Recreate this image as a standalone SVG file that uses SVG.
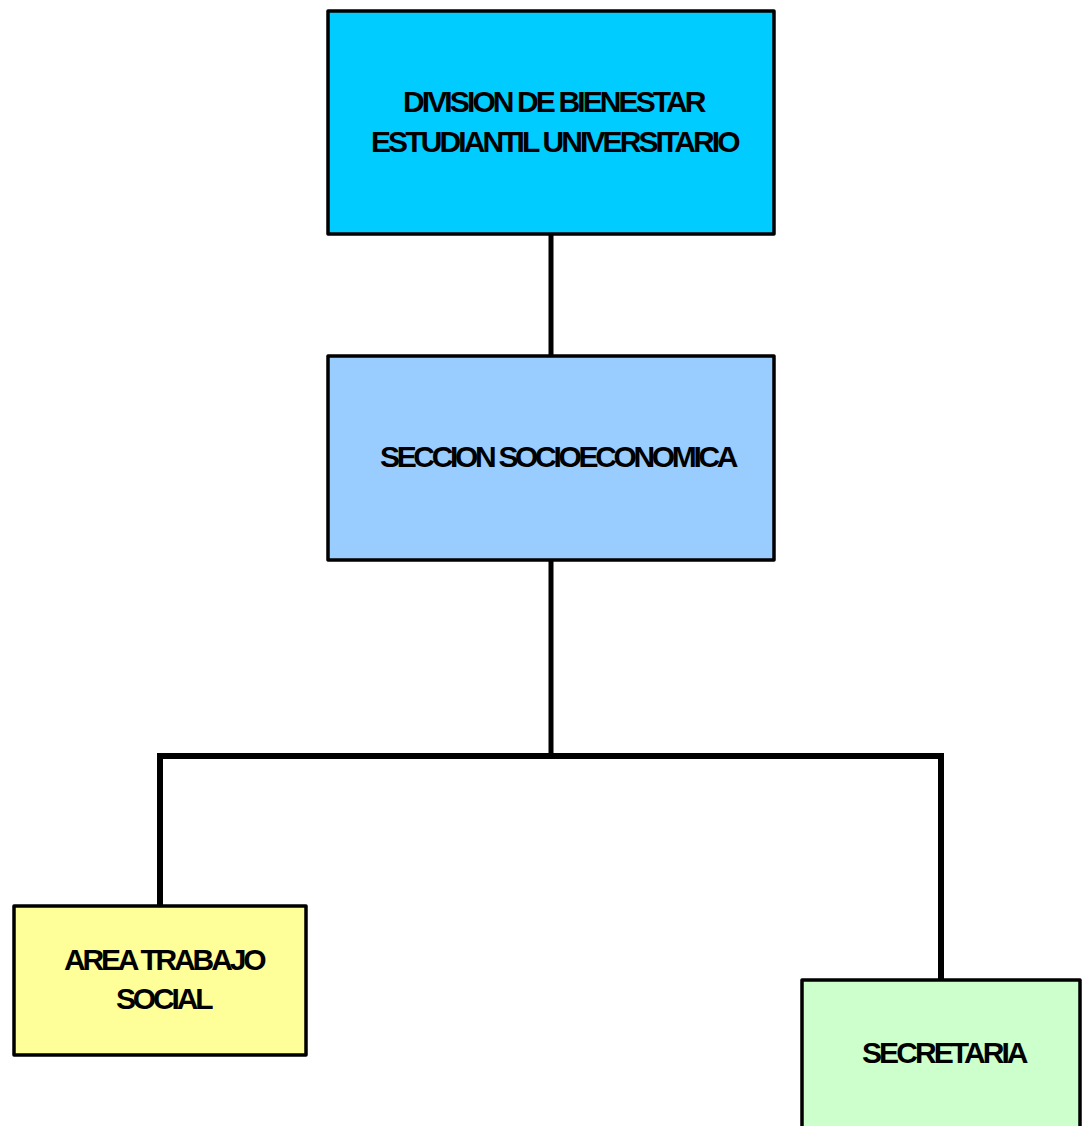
<svg xmlns="http://www.w3.org/2000/svg" width="1082" height="1126" viewBox="0 0 1082 1126">
<style>
.box{stroke:#000;stroke-width:3.5;stroke-linejoin:round}
.lbl{font-family:"Liberation Sans",Arial,sans-serif;font-weight:bold;font-size:30px;fill:#000;letter-spacing:-2.5px}
.conn{stroke:#000;fill:none;stroke-linecap:round;stroke-linejoin:miter}
</style>
<rect width="1082" height="1126" fill="#fff"/>
<g id="connectors">
<line class="conn" x1="551" y1="234" x2="551" y2="356" stroke-width="5"/>
<line class="conn" x1="551" y1="560" x2="551" y2="755" stroke-width="5"/>
<polyline class="conn" points="160,906 160,756 941,756 941,980" stroke-width="6"/>
</g>
<g id="node-division">
<rect class="box" x="328" y="11" width="446" height="223" fill="#00CCFF"/>
<text class="lbl" x="403" y="112" textLength="301" lengthAdjust="spacing">DIVISION DE BIENESTAR</text>
<text class="lbl" x="371" y="152" textLength="367" lengthAdjust="spacing">ESTUDIANTIL UNIVERSITARIO</text>
</g>
<g id="node-seccion">
<rect class="box" x="328" y="356" width="446" height="204" fill="#99CCFF"/>
<text class="lbl" x="380" y="467" textLength="356" lengthAdjust="spacing">SECCION SOCIOECONOMICA</text>
</g>
<g id="node-area">
<rect class="box" x="14" y="906" width="292" height="149" fill="#FFFF99"/>
<text class="lbl" x="64" y="970" textLength="200" lengthAdjust="spacing">AREA TRABAJO</text>
<text class="lbl" x="116" y="1009" textLength="95" lengthAdjust="spacing">SOCIAL</text>
</g>
<g id="node-secretaria">
<rect class="box" x="802" y="980" width="278" height="160" fill="#CCFFCC"/>
<text class="lbl" x="862" y="1063" textLength="164" lengthAdjust="spacing">SECRETARIA</text>
</g>
</svg>
